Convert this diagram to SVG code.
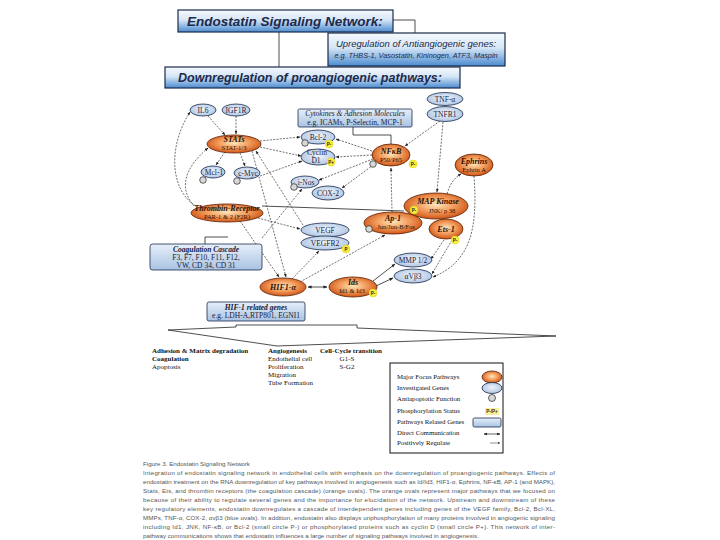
<svg xmlns="http://www.w3.org/2000/svg" width="720" height="540" viewBox="0 0 720 540">
<defs>
<linearGradient id="headG" x1="0" y1="0" x2="0" y2="1">
<stop offset="0" stop-color="#f6f9fd"/><stop offset="0.45" stop-color="#d6e6f6"/><stop offset="1" stop-color="#4b8bd0"/>
</linearGradient>
<radialGradient id="orG" cx="0.5" cy="0.45" r="0.6">
<stop offset="0" stop-color="#fde6bc"/><stop offset="0.45" stop-color="#f4a060"/><stop offset="1" stop-color="#c8480a"/>
</radialGradient>
<radialGradient id="blG" cx="0.5" cy="0.45" r="0.65">
<stop offset="0" stop-color="#eef4fc"/><stop offset="1" stop-color="#a6bedf"/>
</radialGradient>
<linearGradient id="boxG" x1="0" y1="0" x2="0" y2="1">
<stop offset="0" stop-color="#e6eff9"/><stop offset="1" stop-color="#a9c3e3"/>
</linearGradient>
<marker id="ar" viewBox="0 0 10 10" refX="9" refY="5" markerWidth="5" markerHeight="5" orient="auto-start-reverse">
<path d="M0,1 L10,5 L0,9 Z" fill="#222"/>
</marker>
</defs>
<style>
.hd{fill:url(#headG);stroke:#1b2b4b;stroke-width:1.2}
.ht{font-family:"Liberation Sans",Arial,sans-serif;font-weight:bold;font-style:italic;fill:#1c2a4c}
.hn{font-family:"Liberation Sans",Arial,sans-serif;font-style:italic;fill:#1c2a4c;text-anchor:middle}
.or{fill:url(#orG);stroke:#5a2004;stroke-width:0.8}
.bl{fill:url(#blG);stroke:#1a2a4a;stroke-width:0.8}
.bx{fill:url(#boxG);stroke:#1a2a4a;stroke-width:0.8}
.t{font-family:"Liberation Serif","Times New Roman",serif;font-size:7.5px;fill:#1a1a36;text-anchor:middle}
.ti{font-family:"Liberation Serif","Times New Roman",serif;font-size:8px;font-style:italic;font-weight:bold;fill:#2a1206;text-anchor:middle}
.ts{font-family:"Liberation Serif","Times New Roman",serif;font-size:6.5px;fill:#2a1206;text-anchor:middle}
.an{fill:#d8d8d8;stroke:#222;stroke-width:0.7}
.ph{fill:#f4ee3c;stroke:#d8c800;stroke-width:0.4}
.pt{font-family:"Liberation Sans",Arial,sans-serif;font-size:4.5px;fill:#222;text-anchor:middle;font-weight:bold}
.c{fill:none;stroke:#333;stroke-width:0.7;stroke-dasharray:2 1.3}
.s{fill:none;stroke:#222;stroke-width:0.8}
.bt{font-family:"Liberation Serif","Times New Roman",serif;font-size:7px;fill:#111}
.bb{font-family:"Liberation Serif","Times New Roman",serif;font-size:7px;fill:#111;font-weight:bold}
.lg{font-family:"Liberation Serif","Times New Roman",serif;font-size:6.8px;fill:#111}
.cap{font-family:"Liberation Sans",Arial,sans-serif;font-size:6.2px;fill:#555}
</style>
<rect width="720" height="540" fill="#ffffff"/>

<g id="header">
<polyline class="s" points="392,20 415,20 415,33"/>
<line class="s" x1="279" y1="32" x2="279" y2="67"/>
<rect class="hd" x="178" y="10" width="215" height="22"/>
<text class="ht" x="285" y="26" font-size="13.5" text-anchor="middle">Endostatin Signaling Network:</text>
<rect class="hd" x="328" y="33" width="177" height="33"/>
<text class="hn" x="416" y="47" font-size="9.5">Upregulation of Antiangiogenic genes:</text>
<text class="hn" x="416" y="58" font-size="7.3">e.g. THBS-1, Vasostatin, Kininogen, ATF3, Maspin</text>
<rect class="hd" x="165" y="67" width="295" height="21"/>
<text class="ht" x="310" y="82" font-size="12.5" text-anchor="middle">Downregulation of proangiogenic pathways:</text>
</g>

<g id="connectors">
<line class="c" x1="208" y1="116" x2="225" y2="135" marker-end="url(#ar)"/>
<line class="c" x1="236" y1="116" x2="236" y2="134" marker-end="url(#ar)"/>
<path class="c" d="M196,206 C172,192 166,150 190,112" marker-end="url(#ar)"/>
<path class="c" d="M194,206 C180,190 182,170 208,148" marker-end="url(#ar)"/>
<line class="c" x1="260" y1="141" x2="300" y2="137" marker-end="url(#ar)"/>
<line class="c" x1="260" y1="147" x2="301" y2="156" marker-end="url(#ar)"/>
<line class="c" x1="225" y1="152" x2="216" y2="165" marker-end="url(#ar)"/>
<line class="c" x1="240" y1="153" x2="245" y2="166" marker-end="url(#ar)"/>
<line class="c" x1="260" y1="176" x2="302" y2="161" marker-end="url(#ar)"/>
<line class="c" x1="372" y1="151" x2="336" y2="139" marker-end="url(#ar)"/>
<line class="c" x1="372" y1="155" x2="336" y2="157" marker-end="url(#ar)"/>
<line class="c" x1="373" y1="159" x2="319" y2="180" marker-end="url(#ar)"/>
<line class="c" x1="376" y1="163" x2="342" y2="188" marker-end="url(#ar)"/>
<polyline class="s" points="353,126 353,135 391,135 391,144"/>
<line class="c" x1="440" y1="121" x2="405" y2="146" marker-end="url(#ar)"/>
<line class="c" x1="443" y1="122" x2="437" y2="192" marker-end="url(#ar)"/>
<path class="c" d="M447,194 C450,184 454,178 461,174" marker-end="url(#ar)"/>
<line class="c" x1="392" y1="212" x2="391" y2="168" marker-end="url(#ar)"/>
<line class="s" x1="262" y1="206" x2="404" y2="211" stroke-width="0.6"/>
<line class="c" x1="258" y1="218" x2="300" y2="229" marker-end="url(#ar)"/>
<line class="c" x1="240" y1="221" x2="279" y2="277" marker-end="url(#ar)"/>
<line class="c" x1="252" y1="151" x2="286" y2="277" marker-end="url(#ar)"/>
<line class="c" x1="303" y1="225" x2="256" y2="151" marker-end="url(#ar)"/>
<line class="c" x1="262" y1="238" x2="302" y2="189" marker-end="url(#ar)"/>
<line class="c" x1="292" y1="279" x2="319" y2="251" marker-end="url(#ar)"/>
<line class="c" x1="300" y1="282" x2="385" y2="235" marker-end="url(#ar)"/>
<line class="s" x1="308" y1="287" x2="327" y2="287" stroke-width="0.6" marker-start="url(#ar)" marker-end="url(#ar)"/>
<line class="s" x1="373" y1="281" x2="395" y2="264" stroke-width="0.6" marker-end="url(#ar)"/>
<line class="s" x1="376" y1="286" x2="393" y2="278" stroke-width="0.6" marker-end="url(#ar)"/>
<line class="c" x1="444" y1="240" x2="431" y2="259" marker-end="url(#ar)"/>
<line class="c" x1="452" y1="240" x2="432" y2="274" marker-end="url(#ar)"/>
<path class="c" d="M474,176 C478,230 470,262 433,277" marker-end="url(#ar)"/>
<polyline class="s" points="205,244 205,237 228,237"/>
</g>

<g id="n-il6"><ellipse class="bl" cx="203" cy="110" rx="13" ry="6"/><text class="t" x="203" y="112.5">IL6</text></g>
<g id="n-igf1r"><ellipse class="bl" cx="236" cy="110" rx="14" ry="6"/><text class="t" x="236" y="112.5">IGF1R</text></g>
<g id="n-stats"><ellipse class="or" cx="234" cy="144" rx="27" ry="9"/><text class="ti" x="234" y="142">STATs</text><text class="ts" x="234" y="150">STAT-1/3</text></g>
<g id="n-mcl1"><ellipse class="bl" cx="213" cy="172" rx="12" ry="6"/><text class="t" x="214" y="174.5">Mcl-1</text><circle class="an" cx="203" cy="180" r="3.3"/></g>
<g id="n-cmyc"><ellipse class="bl" cx="247" cy="173" rx="13" ry="6"/><text class="t" x="248" y="175.5">c-Myc</text><circle class="an" cx="237" cy="181" r="3.3"/></g>
<g id="n-cyto"><rect class="bx" x="298" y="109" width="114" height="18" rx="1.5"/><text class="t" x="355" y="116" font-style="italic" font-size="6.3">Cytokines &amp; Adhesion Molecules</text><text class="t" x="355" y="124.5" font-size="6.3">e.g. ICAMs, P-Selectin, MCP-1</text></g>
<g id="n-bcl2"><ellipse class="bl" cx="318" cy="137" rx="17" ry="7"/><text class="t" x="318" y="139.5">Bcl-2</text><circle class="an" cx="305" cy="143" r="3.3"/><circle class="ph" cx="329" cy="144" r="4"/><text class="pt" x="329" y="145.7">P-</text></g>
<g id="n-cyclin"><ellipse class="bl" cx="318" cy="157" rx="17" ry="8"/><text class="t" x="317" y="155">Cyclin</text><text class="t" x="316" y="163">D1</text><circle class="ph" cx="331" cy="162" r="4"/><text class="pt" x="331" y="163.7">P+</text></g>
<g id="n-inos"><ellipse class="bl" cx="305" cy="182" rx="14" ry="6"/><text class="t" x="306" y="184.5">i-Nos</text><circle class="an" cx="294" cy="187" r="3.3"/></g>
<g id="n-cox2"><ellipse class="bl" cx="328" cy="193" rx="16" ry="7"/><text class="t" x="328" y="195.5">COX-2</text></g>
<g id="n-nfkb"><ellipse class="or" cx="391" cy="155" rx="19" ry="11"/><text class="ti" x="391" y="154">NFκB</text><text class="ts" x="391" y="162">P50/P65</text><circle class="an" cx="373" cy="164" r="3.3"/><circle class="ph" cx="413" cy="164" r="4"/><text class="pt" x="413" y="165.7">P-</text></g>
<g id="n-tnfa"><ellipse class="bl" cx="445" cy="99" rx="18" ry="6.5"/><text class="t" x="445" y="101.5">TNF-α</text></g>
<g id="n-tnfr1"><ellipse class="bl" cx="445" cy="114" rx="18" ry="7.5"/><text class="t" x="445" y="116.5">TNFR1</text></g>
<g id="n-ephrins"><ellipse class="or" cx="474" cy="165" rx="19" ry="11"/><text class="ti" x="474" y="164">Ephrins</text><text class="ts" x="474" y="172">Ephrin A</text></g>
<g id="n-mapk"><ellipse class="or" cx="436" cy="206" rx="32" ry="13"/><text class="ti" x="438" y="204">MAP Kinase</text><text class="ts" x="442" y="213">JNK/ p 38</text><circle class="ph" cx="414" cy="210" r="4"/><text class="pt" x="414" y="211.7">P-</text></g>
<g id="n-ap1"><ellipse class="or" cx="393" cy="223" rx="29" ry="11"/><text class="ti" x="393" y="221">Ap-1</text><text class="ts" x="396" y="229" font-size="5.5">Jun/Jun-B/Fos</text><circle class="an" cx="369" cy="229" r="3.3"/></g>
<g id="n-ets1"><ellipse class="or" cx="446" cy="229" rx="17" ry="10"/><text class="ti" x="446" y="232">Ets-1</text><circle class="ph" cx="455" cy="240" r="4"/><text class="pt" x="455" y="241.7">P-</text></g>
<g id="n-thrombin"><ellipse class="or" cx="227" cy="213" rx="36" ry="9"/><text class="ti" x="227" y="211">Thrombin-Receptor</text><text class="ts" x="227" y="219">PAR-1 &amp; 2 (F2R)</text></g>
<g id="n-coag"><rect class="bx" x="150" y="244" width="112" height="26" rx="2.5"/><text class="t" x="206" y="252" font-style="italic" font-weight="bold" font-size="7">Coagulation Cascade</text><text class="t" x="206" y="260" font-size="7">F3, F7, F10, F11, F12,</text><text class="t" x="206" y="268" font-size="7">VW, CD 34, CD 31</text></g>
<g id="n-vegf"><ellipse class="bl" cx="325" cy="230" rx="24" ry="7"/><text class="t" x="325" y="232.5">VEGF</text></g>
<g id="n-vegfr2"><ellipse class="bl" cx="325" cy="243" rx="24" ry="7"/><text class="t" x="325" y="245.5">VEGFR2</text><circle class="ph" cx="346" cy="249" r="4"/><text class="pt" x="346" y="250.7">P</text></g>
<g id="n-hif"><ellipse class="or" cx="283" cy="287" rx="23" ry="9"/><text class="ti" x="283" y="290">HIF1-α</text></g>
<g id="n-id"><ellipse class="or" cx="353" cy="287" rx="24" ry="10"/><text class="ti" x="353" y="285">Ids</text><text class="ts" x="352" y="293">Id1 &amp; Id3</text><circle class="ph" cx="373" cy="293" r="4"/><text class="pt" x="373" y="294.7">P-</text></g>
<g id="n-mmp"><ellipse class="bl" cx="413" cy="260" rx="19" ry="7"/><text class="t" x="413" y="262.5">MMP 1/2</text></g>
<g id="n-avb3"><ellipse class="bl" cx="413" cy="276" rx="19" ry="7"/><text class="t" x="413" y="278.5">αVβ3</text></g>
<g id="n-hifbox"><rect class="bx" x="207" y="302" width="98" height="19" rx="2"/><text class="t" x="256" y="310" font-style="italic" font-weight="bold" font-size="7">HIF-1 related genes</text><text class="t" x="256" y="318" font-size="7">e.g. LDH-A,RTP801, EGNI1</text></g>

<g id="funnel">
<path d="M168,330 L236,327 L236,325 L357,325 L357,328 L556,336 L277,346 Z" fill="#ffffff" stroke="#222" stroke-width="0.8"/>
</g>

<g id="outcomes">
<text class="bb" x="152" y="353">Adhesion &amp; Matrix degradation</text>
<text class="bb" x="152" y="361">Coagulation</text>
<text class="bt" x="152" y="369">Apoptosis</text>
<text class="bb" x="268" y="353">Angiogenesis</text>
<text class="bt" x="268" y="361">Endothelial cell</text>
<text class="bt" x="268" y="369">Proliferation</text>
<text class="bt" x="268" y="377">Migration</text>
<text class="bt" x="268" y="385">Tube Formation</text>
<text class="bb" x="320" y="353">Cell-Cycle transition</text>
<text class="bt" x="347" y="361" text-anchor="middle">G1-S</text>
<text class="bt" x="347" y="369" text-anchor="middle">S-G2</text>
</g>

<g id="legend">
<rect x="390" y="363" width="113" height="90" fill="#ffffff" stroke="#111" stroke-width="1"/>
<text class="lg" x="397" y="379">Major Focus Pathways</text>
<ellipse class="or" cx="492" cy="377" rx="10" ry="6"/>
<text class="lg" x="397" y="390">Investigated Genes</text>
<ellipse class="bl" cx="492" cy="388" rx="10" ry="5.5"/>
<text class="lg" x="397" y="401">Antiapoptotic Function</text>
<circle class="an" cx="492" cy="398" r="3.5"/>
<text class="lg" x="397" y="413">Phosphorylation Status</text>
<rect x="485" y="408" width="14" height="7" fill="#f6f09a"/>
<text class="pt" x="492" y="413" font-size="5">P-/P+</text>
<text class="lg" x="397" y="424">Pathways Related Genes</text>
<rect class="bx" x="473" y="418" width="28" height="9" rx="1.5"/>
<text class="lg" x="397" y="435">Direct Communication</text>
<line x1="484" y1="434" x2="500" y2="434" stroke="#222" stroke-width="0.7" marker-start="url(#ar)" marker-end="url(#ar)"/>
<text class="lg" x="397" y="445">Positively Regulate</text>
<line x1="490" y1="443" x2="500" y2="443" stroke="#222" stroke-width="0.5" marker-end="url(#ar)"/>
</g>

<g id="caption">
<text class="cap" x="143" y="466">Figure 3. Endostatin Signaling Network</text>
<text class="cap" x="143" y="475" textLength="412" lengthAdjust="spacing">Integration of endostatin signaling network in endothelial cells with emphasis on the downregulation of proangiogenic pathways. Effects of</text>
<text class="cap" x="143" y="484" textLength="412" lengthAdjust="spacing">endostatin treatment on the RNA downregulation of key pathways involved in angiogenesis such as Id/Id3, HIF1-α, Ephrins, NF-κB, AP-1 (and MAPK),</text>
<text class="cap" x="143" y="493" textLength="412" lengthAdjust="spacing">Stats, Ets, and thrombin receptors (the coagulation cascade) (orange ovals). The orange ovals represent major pathways that we focused on</text>
<text class="cap" x="143" y="502" textLength="412" lengthAdjust="spacing">because of their ability to regulate several genes and the importance for elucidation of the network. Upstream and downstream of these</text>
<text class="cap" x="143" y="511" textLength="412" lengthAdjust="spacing">key regulatory elements, endostatin downregulates a cascade of interdependent genes including genes of the VEGF family, Bcl-2, Bcl-XL,</text>
<text class="cap" x="143" y="520" textLength="412" lengthAdjust="spacing">MMPs, TNF-α, COX-2, αvβ3 (blue ovals). In addition, endostatin also displays unphosphorylation of many proteins involved in angiogenic signaling</text>
<text class="cap" x="143" y="529" textLength="412" lengthAdjust="spacing">including Id1, JNK, NF-κB, or Bcl-2 (small circle P-) or phosphorylated proteins such as cyclin D (small circle P+). This network of inter-</text>
<text class="cap" x="143" y="538">pathway communications shows that endostatin influences a large number of signaling pathways involved in angiogenesis.</text>
</g>
</svg>
